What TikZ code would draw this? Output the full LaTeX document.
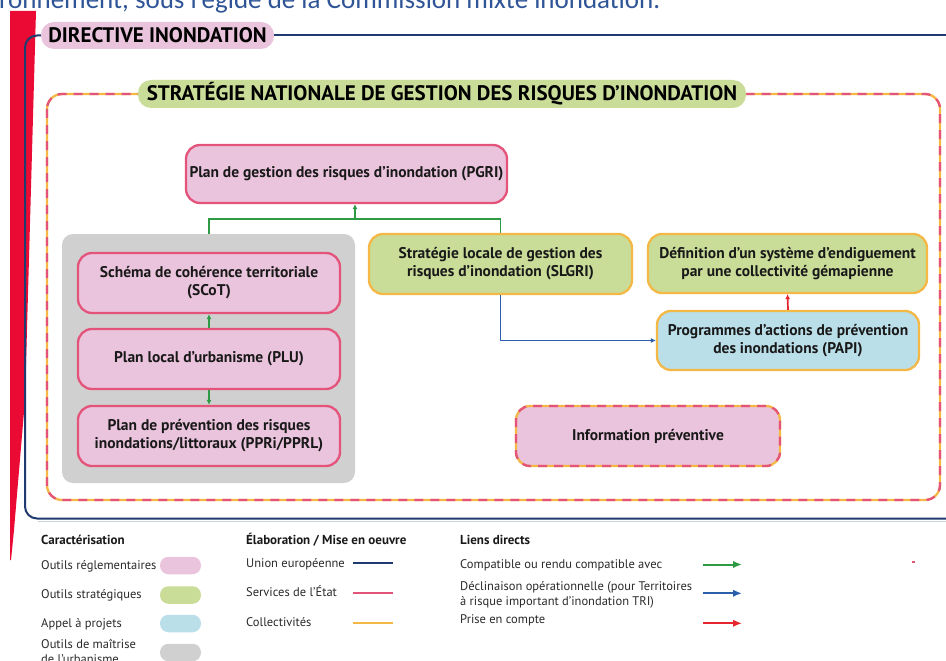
\documentclass[tikz,border=0pt]{standalone}
\usepackage{fontspec}
\setmainfont{PT Sans}
\newfontfamily\topfont{Carlito}
\usetikzlibrary{arrows.meta}
\definecolor{navy}{HTML}{1F3B70}
\definecolor{pinkfill}{HTML}{EAC3DC}
\definecolor{pinkline}{HTML}{E4547A}
\definecolor{greenfill}{HTML}{C9DC98}
\definecolor{orangeline}{HTML}{F3B845}
\definecolor{bluefill}{HTML}{BBDFE9}
\definecolor{greyfill}{HTML}{D0D0D0}
\definecolor{arrgreen}{HTML}{2E9A44}
\definecolor{arrblue}{HTML}{2B5EAB}
\definecolor{arrred}{HTML}{E5262E}
\definecolor{redbar}{HTML}{EB0A33}
\definecolor{toptext}{HTML}{2F5597}
\definecolor{legtext}{HTML}{2A2A2A}
\definecolor{sepline}{HTML}{C9D3E0}
\tikzset{
  box/.style={rounded corners=14pt, line width=2.3pt, align=center, inner sep=0pt,
    font=\bfseries\fontsize{15.5}{18}\selectfont, text=black!90},
  regl/.style={box, draw=pinkline, fill=pinkfill},
  strat/.style={box, draw=orangeline, fill=greenfill},
  appel/.style={box, draw=orangeline, fill=bluefill},
  mixed/.style={box, draw=orangeline, fill=pinkfill,
    postaction={draw=pinkline, line width=2.3pt, dash pattern=on 9pt off 7pt}},
  pill/.style={rounded corners=13pt, inner sep=0pt, font=\bfseries\fontsize{21}{22}\selectfont, text=black},
  lnk/.style={line width=1.7pt, -{Latex[length=5pt,width=5pt]}},
  legt/.style={anchor=base west, inner sep=0pt, font=\bfseries\fontsize{13}{15}\selectfont, text=black!90},
  legl/.style={anchor=base west, inner sep=0pt, font=\fontsize{12.5}{14.5}\selectfont, text=legtext, align=left},
  swatch/.style={rounded corners=8.5pt, minimum width=41pt, minimum height=17.5pt, inner sep=0pt},
  legline/.style={line width=2pt},
  legarr/.style={line width=2pt, -{Latex[length=9pt,width=7.5pt]}}
}
\begin{document}
\begin{tikzpicture}[x=1pt,y=-1pt]
\useasboundingbox (0,0) rectangle (946,661);
\clip (0,0) rectangle (946,661);
\fill[white] (0,0) rectangle (946,661);
% top cut text
\node[anchor=base west, inner sep=0pt, text=toptext, font=\topfont\fontsize{27}{30}\selectfont] (toptxt) at (-1,9) {ronnement, sous l’égide de la Commission mixte inondation.};
% red bar
\fill[redbar] (10,11) -- (36,11) -- (25,400) -- (14,530) -- (11,560) -- (10,560) -- cycle;
% legend separator
\draw[sepline, line width=1.5pt] (38,521.5) -- (950,521.5);
% directive frame
\node[pill, fill=pinkfill, minimum width=233pt, minimum height=27pt] (dir) at (157.5,35.5) {DIRECTIVE INONDATION};
\draw[navy, line width=2pt, rounded corners=12pt] (dir.west) -- (25,35.5) -- (25,518.5) -- (955,518.5);
\draw[navy, line width=2pt] (dir.east) -- (955,35.5);
% strategy frame
\draw[orangeline, line width=2.3pt, rounded corners=15pt] (47,94) rectangle (940,500);
\draw[pinkline, line width=2.3pt, rounded corners=15pt, dash pattern=on 9pt off 7pt] (47,94) rectangle (940,500);
\node[pill, fill=greenfill, minimum width=608pt, minimum height=28pt] (snat) at (442,94) {STRATÉGIE NATIONALE DE GESTION DES RISQUES D’INONDATION};
% grey group
\node[fill=greyfill, rounded corners=11pt, minimum width=293pt, minimum height=249pt, inner sep=0pt] (grp) at (208.5,358.5) {};
% nodes
\node[regl, minimum width=321pt, minimum height=58pt] (pgri) at (346.5,174) {Plan de gestion des risques d’inondation (PGRI)};
\node[regl, minimum width=262pt, minimum height=60pt] (scot) at (209,283) {Schéma de cohérence territoriale\\(SCoT)};
\node[regl, minimum width=262pt, minimum height=60pt] (plu) at (209,359) {Plan local d’urbanisme (PLU)};
\node[regl, minimum width=262pt, minimum height=60pt] (ppr) at (209,436) {Plan de prévention des risques\\inondations/littoraux (PPRi/PPRL)};
\node[strat, minimum width=263pt, minimum height=60pt] (slgri) at (500.5,264) {Stratégie locale de gestion des\\risques d’inondation (SLGRI)};
\node[strat, minimum width=279pt, minimum height=59pt] (def) at (787.5,263.5) {Définition d’un système d’endiguement\\par une collectivité gémapienne};
\node[appel, minimum width=262pt, minimum height=59pt] (papi) at (788,340.5) {Programmes d’actions de prévention\\des inondations (PAPI)};
\node[mixed, minimum width=264pt, minimum height=60pt] (info) at (648,436) {Information préventive};
% connectors
\coordinate (jn) at (355,219);
\draw[arrgreen, line width=1.7pt] (grp.north -| scot) -- (209,219) -- (500.5,219) -- (slgri.north);
\draw[lnk, arrgreen] (jn) -- (jn |- pgri.south);
\draw[lnk, arrgreen] (plu.north) -- (scot.south);
\draw[lnk, arrgreen] (plu.south) -- (ppr.north);
\draw[lnk, arrblue] (slgri.south) |- (papi.west);
\draw[lnk, arrred] (papi.north) -- (def.south);
% legend
\node[legt] (lt1) at (41,544) {Caractérisation};
\node[legl] (l11) at (41,569) {Outils réglementaires};
\node[legl] (l12) at (41,598) {Outils stratégiques};
\node[legl] (l13) at (41,627) {Appel à projets};
\node[legl, font=\fontsize{12.5}{15.5}\selectfont] (l14) at (41,663.5) {Outils de maîtrise\\de l’urbanisme};
\node[swatch, fill=pinkfill] (s1) at (180.5,565.5) {};
\node[swatch, fill=greenfill] (s2) at (180.5,595) {};
\node[swatch, fill=bluefill] (s3) at (180.5,623.5) {};
\node[swatch, fill=greyfill] (s4) at (180.5,652.5) {};
\node[legt] (lt2) at (246,544) {Élaboration / Mise en oeuvre};
\node[legl] (l21) at (246,567) {Union européenne};
\node[legl] (l22) at (246,596) {Services de l’État};
\node[legl] (l23) at (246,626) {Collectivités};
\coordinate (u1) at (353,563.3); \coordinate (u2) at (393,563.3);
\coordinate (e1) at (353,592.7); \coordinate (e2) at (393,592.7);
\coordinate (c1) at (353,622.7); \coordinate (c2) at (393,622.7);
\draw[legline, navy] (u1) -- (u2);
\draw[legline, pinkline] (e1) -- (e2);
\draw[legline, orangeline] (c1) -- (c2);
\node[legt] (lt3) at (460,544) {Liens directs};
\node[legl] (l31) at (460,568.3) {Compatible ou rendu compatible avec};
\node[legl] (l32) at (460,605) {Déclinaison opérationnelle (pour Territoires\\à risque important d’inondation TRI)};
\node[legl] (l33) at (460,623.3) {Prise en compte};
\coordinate (g1) at (703,564.5); \coordinate (g2) at (742,564.5);
\coordinate (b1) at (703,593.3); \coordinate (b2) at (742,593.3);
\coordinate (r1) at (703,623.3); \coordinate (r2) at (742,623.3);
\draw[legarr, arrgreen] (g1) -- (g2);
\draw[legarr, arrblue] (b1) -- (b2);
\draw[legarr, arrred] (r1) -- (r2);
\fill[pinkline] (912,561) rectangle (915,562.5);
\end{tikzpicture}
\end{document}
